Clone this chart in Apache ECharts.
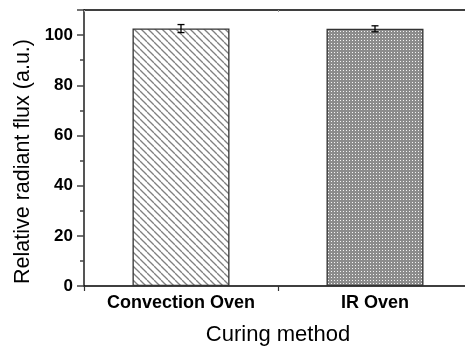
<!DOCTYPE html>
<html><head><meta charset="utf-8">
<script src="https://cdn.jsdelivr.net/npm/echarts@6/dist/echarts.min.js"></script>
<style>html,body{margin:0;padding:0;background:#fff}#c{width:465px;height:349px}</style>
</head><body><div id="c"></div>
<script>
const categories = ['Convection Oven', 'IR Oven'];
const values = [102.6, 102.5];
const errors = [1.6, 1.2];
const yTicks = [0, 20, 40, 60, 80, 100];

function hatch() {
  const c = document.createElement('canvas'); c.width = 7; c.height = 7;
  const g = c.getContext('2d');
  g.fillStyle = '#fff'; g.fillRect(0, 0, 7, 7);
  g.strokeStyle = '#808080'; g.lineWidth = 1.3;
  for (const o of [-7, 0, 7]) { g.beginPath(); g.moveTo(o, 0); g.lineTo(o + 7, 7); g.stroke(); }
  return c;
}
function dots() {
  const c = document.createElement('canvas'); c.width = 3; c.height = 3;
  const g = c.getContext('2d');
  g.fillStyle = '#8c8c8c'; g.fillRect(0, 0, 3, 3);
  g.fillStyle = '#f4f4f4'; g.fillRect(1, 1, 1, 1);
  return c;
}
const fills = [{image: hatch(), repeat: 'repeat'}, {image: dots(), repeat: 'repeat'}];

const chart = echarts.init(document.getElementById('c'));
chart.setOption({
  animation: false,
  grid: {left: 84, right: -7, top: 10, bottom: 63, containLabel: false, outerBoundsMode: 'none'},
  xAxis: [{
    type: 'category', data: categories,
    axisLine: {lineStyle: {color: '#000', width: 1.5}},
    axisTick: {show: true, length: 5, lineStyle: {color: '#333', width: 1.2}},
    axisLabel: {fontFamily: 'Liberation Sans', fontWeight: 'bold', fontSize: 18, color: '#000', margin: 8},
    name: 'Curing method', nameLocation: 'middle', nameGap: 38,
    nameTextStyle: {fontFamily: 'Liberation Sans', fontSize: 22, color: '#000'}
  }, {
    type: 'category', data: categories, position: 'top',
    axisLine: {lineStyle: {color: '#000', width: 1.5}},
    axisTick: {show: true, inside: true, length: 2, lineStyle: {color: '#999'}},
    axisLabel: {show: false}
  }],
  yAxis: {
    type: 'value', min: 0, max: 110, interval: 20,
    axisLine: {show: true, lineStyle: {color: '#555', width: 2}},
    axisTick: {show: true, length: 7, lineStyle: {color: '#444', width: 1.5}},
    minorTick: {show: true, splitNumber: 2, length: 4, lineStyle: {color: '#444', width: 1.5}},
    splitLine: {show: false},
    axisLabel: {fontFamily: 'Liberation Sans', fontWeight: 'bold', fontSize: 17, color: '#000', margin: 11,
      formatter: v => yTicks.includes(v) ? String(v) : ''},
    name: 'Relative radiant flux (a.u.)', nameLocation: 'middle', nameGap: 48,
    nameTextStyle: {fontFamily: 'Liberation Sans', fontSize: 21.5, color: '#000', padding: [0, 27, 0, 0]}
  },
  series: [{
    type: 'bar', barWidth: '50%',
    data: values.map((v, i) => ({value: v, itemStyle: {color: fills[i], borderColor: '#333', borderWidth: 1.3}}))
  }, {
    type: 'custom',
    data: values.map((v, i) => [i, v - errors[i], v + errors[i]]),
    renderItem: function (params, api) {
      const lo = api.coord([api.value(0), api.value(1)]);
      const hi = api.coord([api.value(0), api.value(2)]);
      const w = 3.5;
      const st = {stroke: '#000', lineWidth: 1.3};
      return {type: 'group', children: [
        {type: 'line', shape: {x1: hi[0], y1: hi[1], x2: lo[0], y2: lo[1]}, style: st},
        {type: 'line', shape: {x1: hi[0] - w, y1: hi[1], x2: hi[0] + w, y2: hi[1]}, style: st},
        {type: 'line', shape: {x1: lo[0] - w, y1: lo[1], x2: lo[0] + w, y2: lo[1]}, style: st}
      ]};
    },
    z: 10
  }]
});
</script></body></html>
